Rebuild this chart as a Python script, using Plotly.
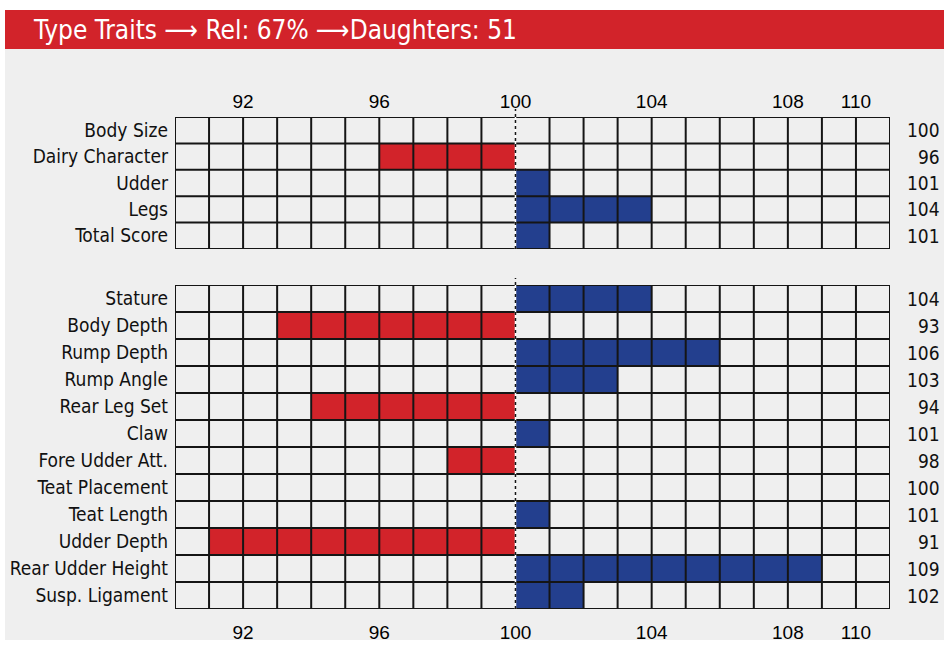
import plotly.graph_objects as go

# ---------------- data ----------------
top_traits = ["Body Size", "Dairy Character", "Udder", "Legs", "Total Score"]
top_values = [100, 96, 101, 104, 101]

bottom_traits = ["Stature", "Body Depth", "Rump Depth", "Rump Angle", "Rear Leg Set",
                 "Claw", "Fore Udder Att.", "Teat Placement", "Teat Length",
                 "Udder Depth", "Rear Udder Height", "Susp. Ligament"]
bottom_values = [104, 93, 106, 103, 94, 101, 98, 100, 101, 91, 109, 102]

tick_values = [92, 96, 100, 104, 108, 110]
x_min, x_max, base_val = 90, 111, 100
title_text = "Type Traits \u27f6 Rel: 67% \u27f6Daughters: 51"

# ---------------- styles ----------------
RED = "#d2232a"
BLUE = "#233f8e"
BG = "#efefef"
GRID = "#151515"
COND = "Liberation Sans Narrow, DejaVu Sans Condensed, Roboto Condensed, Arial Narrow, sans-serif"
TICKF = "Liberation Sans, Arial, sans-serif"
LBL = 19

W, H = 944, 648
# target screen positions of the plot area
SX0, SX1, SY0, SY1 = 175, 890, 117, 609
L, R, T, B = SX0, W - SX1, SY0, H - SY1
plot_w = W - L - R
plot_h = H - T - B
top_bottom_px = 249
bot_top_px = 285


def px_x(px):
    return (px - SX0) / plot_w


def px_y(py):
    return (SY1 - py) / plot_h


top_dom = [px_y(top_bottom_px), 1.0]
bot_dom = [0.0, px_y(bot_top_px)]

fig = go.Figure()


def add_section(traits, values, xa, ya, yref_name):
    colors = [RED if v < base_val else BLUE for v in values]
    fig.add_trace(go.Bar(
        y=traits, x=[v - base_val for v in values], base=base_val,
        orientation="h", width=1, marker=dict(color=colors, line=dict(width=0)),
        xaxis=xa, yaxis=ya, hoverinfo="skip", showlegend=False))
    n = len(traits)
    for xv in range(x_min, x_max + 1):
        if xv == base_val:
            continue
        fig.add_shape(type="line", xref=xa, yref=yref_name + " domain",
                      x0=xv, x1=xv, y0=0, y1=1, layer="above",
                      line=dict(color=GRID, width=2))
    for k in range(n + 1):
        fig.add_shape(type="line", xref=xa, yref=ya,
                      x0=x_min, x1=x_max, y0=k - 0.5, y1=k - 0.5, layer="above",
                      line=dict(color=GRID, width=2))
    fig.add_shape(type="line", xref=xa, yref=yref_name + " domain",
                  x0=base_val, x1=base_val, y0=0, y1=1, layer="above",
                  line=dict(color="white", width=1.5))
    for t, v in zip(traits, values):
        fig.add_annotation(xref="paper", yref=ya, x=px_x(942), y=t,
                           text=str(v), showarrow=False, xanchor="right",
                           yanchor="middle",
                           font=dict(family=COND, size=LBL, color="#111"))


add_section(top_traits, top_values, "x2", "y", "y")
add_section(bottom_traits, bottom_values, "x", "y2", "y2")

ext_top = 1 + 8 / (top_bottom_px - SY0)
ext_bot = 1 + 7 / (SY1 - bot_top_px)
fig.add_shape(type="line", xref="x2", yref="y domain", x0=base_val, x1=base_val,
              y0=0, y1=ext_top, layer="above", line=dict(color=GRID, width=1.5, dash="dot"))
fig.add_shape(type="line", xref="x", yref="y2 domain", x0=base_val, x1=base_val,
              y0=0, y1=ext_bot, layer="above", line=dict(color=GRID, width=1.5, dash="dot"))

fig.add_shape(type="rect", xref="paper", yref="paper", x0=px_x(5), x1=px_x(950),
              y0=px_y(640), y1=px_y(49), layer="below", line=dict(width=0), fillcolor=BG)
fig.add_shape(type="rect", xref="paper", yref="paper", x0=px_x(5), x1=px_x(950),
              y0=px_y(49), y1=px_y(10), layer="below", line=dict(width=0), fillcolor=RED)
fig.add_annotation(xref="paper", yref="paper", x=px_x(31), y=px_y(30),
                   text=title_text, showarrow=False, xanchor="left", yanchor="middle",
                   font=dict(family=COND, size=26, color="white"))

axis_common = dict(range=[x_min, x_max], tickvals=tick_values,
                   ticktext=[str(v) for v in tick_values], showgrid=False,
                   zeroline=False, showline=False, ticks="", automargin=False,
                   tickfont=dict(family=TICKF, size=19, color="#000"))

fig.update_layout(
    width=W, height=H,
    margin=dict(l=L, r=R, t=T, b=B, autoexpand=False),
    paper_bgcolor="white", plot_bgcolor=BG,
    barmode="overlay",
    xaxis=dict(anchor="y2", side="bottom", ticklabelstandoff=10, **axis_common),
    xaxis2=dict(anchor="y", side="top", matches="x", ticklabelstandoff=4, **axis_common),
    yaxis=dict(domain=top_dom, anchor="x2", range=[len(top_traits) - 0.5, -0.5],
               showgrid=False, zeroline=False, ticks="", ticklabelstandoff=6,
               automargin=False,
               tickfont=dict(family=COND, size=LBL, color="#111")),
    yaxis2=dict(domain=bot_dom, anchor="x", range=[len(bottom_traits) - 0.5, -0.5],
                showgrid=False, zeroline=False, ticks="", ticklabelstandoff=6,
                automargin=False,
                tickfont=dict(family=COND, size=LBL, color="#111")),
)

fig.write_html("out.html",
               config={"displayModeBar": False},
               post_script="document.body.style.margin='0';document.body.style.overflow='hidden';")
